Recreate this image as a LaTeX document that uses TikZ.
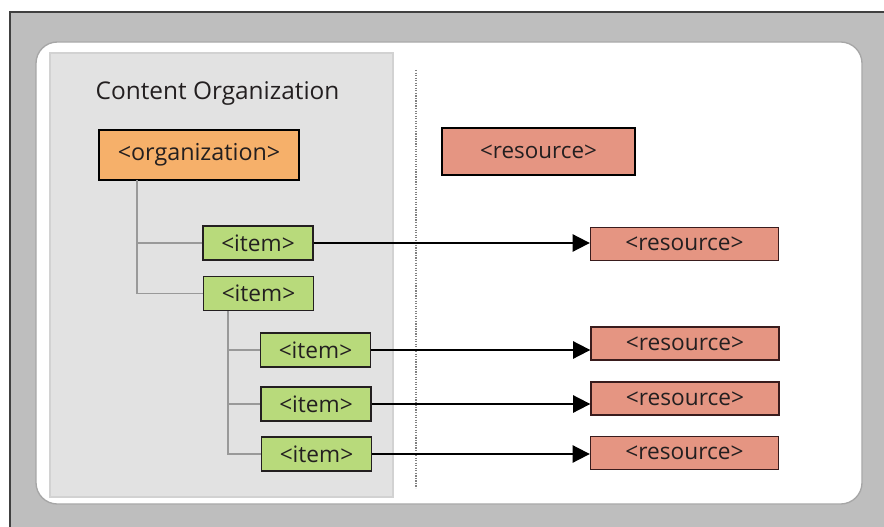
\documentclass[tikz,border=0pt]{standalone}
\usepackage{fontspec}
\setmainfont{Open Sans}
\usepackage{tikz}
\usetikzlibrary{arrows.meta,positioning}
\definecolor{framegrey}{HTML}{BEBEBE}
\definecolor{panelgrey}{HTML}{E2E2E2}
\definecolor{orgorange}{HTML}{F6B06A}
\definecolor{itemgreen}{HTML}{B8DA7B}
\definecolor{ressalmon}{HTML}{E59582}
\definecolor{inkdark}{HTML}{231F20}
\tikzset{
  orgbox/.style={draw=black,line width=2pt,fill=orgorange,text=inkdark,
    minimum width=150pt,minimum height=37.5pt,font=\fontsize{17.5}{19}\selectfont},
  itembox/.style={draw=inkdark,line width=1.2pt,fill=itemgreen,text=inkdark,
    minimum width=82.5pt,minimum height=25.5pt,font=\fontsize{17}{19}\selectfont},
  resbox/.style={draw=inkdark!90!red,line width=1pt,fill=ressalmon,text=inkdark,
    minimum width=141pt,minimum height=24.75pt,font=\fontsize{17}{18}\selectfont},
  legendres/.style={resbox,draw=black,line width=2pt,minimum width=144.75pt,
    minimum height=35.25pt,font=\fontsize{16.8}{18}\selectfont},
  treeline/.style={draw=gray!80,line width=1pt},
  linkarrow/.style={draw=black,line width=1.4pt,-{Triangle[length=13pt,width=13pt]}}
}
\begin{document}
\begin{tikzpicture}[x=0.75pt,y=-0.75pt]
  \useasboundingbox (0,0) rectangle (884,527);
  % frame and panels
  \fill[white] (0,0) rectangle (884,527);
  \fill[framegrey] (10,12) rectangle (884,527);
  \draw[line width=1.5pt,black!75] (10,527) |- (884,12);
  \draw[fill=white,draw=gray!70,line width=1pt,rounded corners=16pt] (36,42) rectangle (862,504);
  \draw[fill=panelgrey,draw=gray!35,line width=0.8pt] (50,53) rectangle (393,497);
  \draw[densely dotted,gray,line width=0.9pt] (416,70) -- (416,488);

  \node[anchor=west,text=inkdark,font=\fontsize{18.3}{20}\selectfont] (title) at (91,93) {Content Organization};

  % tree
  \node[orgbox] (org) at (199,155) {<organization>};
  \node[itembox] (i1) at (258,243) {<item>};
  \node[itembox] (i2) at (258.5,293.5) {<item>};
  \node[itembox] (i3) at (315.5,350) {<item>};
  \node[itembox] (i4) at (316,404) {<item>};
  \node[itembox] (i5) at (316.5,454) {<item>};

  \coordinate (t1) at (137,180);
  \coordinate (t2) at (228,311);
  \draw[treeline] (t1) |- (i2.west);
  \draw[treeline] (t1 |- i1) -- (i1.west);
  \draw[treeline] (t2) |- (i5.west);
  \draw[treeline] (t2 |- i3) -- (i3.west);
  \draw[treeline] (t2 |- i4) -- (i4.west);

  % resources
  \node[legendres] (res) at (538.5,151.5) {<resource>};
  \node[resbox] (r1) at (684.5,244) {<resource>};
  \node[resbox] (r2) at (685,343.5) {<resource>};
  \node[resbox] (r3) at (685,398.5) {<resource>};
  \node[resbox] (r4) at (684.5,453) {<resource>};

  \draw[linkarrow] (i1.east) -- (r1.west |- i1.east);
  \draw[linkarrow] (i3.east) -- (r2.west |- i3.east);
  \draw[linkarrow] (i4.east) -- (r3.west |- i4.east);
  \draw[linkarrow] (i5.east) -- (r4.west |- i5.east);
\end{tikzpicture}
\end{document}
